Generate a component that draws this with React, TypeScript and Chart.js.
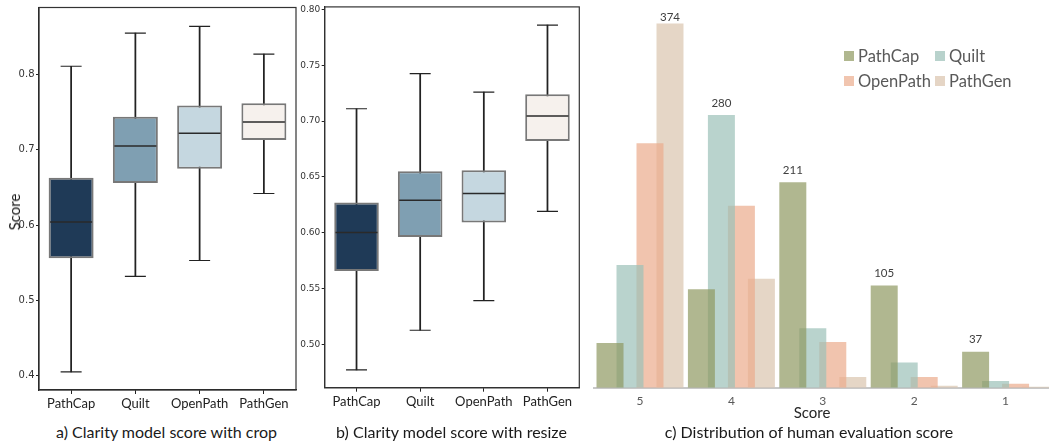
import React, { useEffect, useRef } from 'react';
import { Chart, registerables } from 'chart.js';

Chart.register(...registerables);

// ---------- Data ----------
const boxCategories = ['PathCap', 'Quilt', 'OpenPath', 'PathGen'];
const boxColors = ['#1f3a57', '#7f9fb2', '#c5d7e0', '#f6f1ed'];

// a) crop
const cropMin = [0.405, 0.532, 0.553, 0.642];
const cropQ1 = [0.556, 0.656, 0.675, 0.713];
const cropMedian = [0.604, 0.705, 0.722, 0.737];
const cropQ3 = [0.663, 0.744, 0.759, 0.762];
const cropMax = [0.811, 0.855, 0.864, 0.827];
const cropTicks = [0.4, 0.5, 0.6, 0.7, 0.8];

// b) resize
const resizeMin = [0.477, 0.5125, 0.539, 0.619];
const resizeQ1 = [0.5655, 0.596, 0.609, 0.682];
const resizeMedian = [0.6, 0.629, 0.635, 0.7045];
const resizeQ3 = [0.627, 0.655, 0.656, 0.724];
const resizeMax = [0.711, 0.7425, 0.726, 0.786];
const resizeTicks = [0.5, 0.55, 0.6, 0.65, 0.7, 0.75, 0.8];

// c) human evaluation
const scoreCategories = ['5', '4', '3', '2', '1'];
const seriesNames = ['PathCap', 'Quilt', 'OpenPath', 'PathGen'];
const pathCapCounts = [46, 101, 211, 105, 37];
const quiltCounts = [126, 280, 61, 26, 7];
const openPathCounts = [251, 187, 47, 11, 4];
const pathGenCounts = [374, 112, 11, 2, 1];
const barFill = ['rgba(142,152,97,0.7)', 'rgba(155,192,184,0.7)', 'rgba(235,171,139,0.7)', 'rgba(218,197,174,0.7)'];
const legendSwatch = ['#b0b78f', '#b8d2cc', '#f1c5af', '#e5d5c5'];

const LABEL_FONT = 'Lato, "Open Sans", sans-serif';

const framePlugin = {
  id: 'frame',
  afterDraw(chart: any) {
    const { ctx, chartArea: a } = chart;
    ctx.save();
    ctx.strokeStyle = '#333';
    ctx.lineWidth = 1.2;
    ctx.strokeRect(a.left, a.top, a.right - a.left, a.bottom - a.top);
    ctx.restore();
  },
};

function boxConfig(
  mins: number[], q1: number[], med: number[], q3: number[], maxs: number[],
  yMin: number, yMax: number, ticks: number[], decimals: number,
  yWidth: number, xHeight: number, padRight: number, padTop: number, tickFont: number
): any {
  return {
    type: 'bar',
    data: {
      labels: boxCategories,
      datasets: [
        {
          type: 'bar', label: 'whisker', data: mins.map((m, i) => [m, maxs[i]]),
          backgroundColor: '#222', barThickness: 1.1, grouped: false, order: 3,
        },
        {
          type: 'bar', label: 'box', data: q1.map((v, i) => [v, q3[i]]),
          backgroundColor: boxColors, borderColor: '#787878', borderWidth: 2,
          borderSkipped: false, grouped: false, categoryPercentage: 1, barPercentage: 0.7, order: 2,
        },
        {
          type: 'line', label: 'median', data: med, showLine: false, pointStyle: 'line',
          pointRadius: 21, pointBorderColor: '#2a2a2a', pointBorderWidth: 1.5, order: 1,
        },
        {
          type: 'line', label: 'max', data: maxs, showLine: false, pointStyle: 'line',
          pointRadius: 10.5, pointBorderColor: '#222', pointBorderWidth: 1.2, order: 1,
        },
        {
          type: 'line', label: 'min', data: mins, showLine: false, pointStyle: 'line',
          pointRadius: 10.5, pointBorderColor: '#222', pointBorderWidth: 1.2, order: 1,
        },
      ],
    },
    options: {
      responsive: false,
      animation: false,
      layout: { autoPadding: false, padding: { top: padTop, right: padRight, left: 0, bottom: 0 } },
      plugins: { legend: { display: false }, tooltip: { enabled: false } },
      scales: {
        x: {
          offset: true,
          grid: { display: true, offset: false, drawOnChartArea: false, drawTicks: true, tickLength: 4, color: '#222' },
          border: { color: '#222', width: 1.2 },
          ticks: { font: { family: LABEL_FONT, size: 13 }, color: '#222', padding: 2, maxRotation: 0, autoSkip: false },
          afterFit: (s: any) => { s.height = xHeight; },
        },
        y: {
          min: yMin, max: yMax,
          afterBuildTicks: (s: any) => { s.ticks = ticks.map((v) => ({ value: v })); },
          grid: { display: true, drawOnChartArea: false, drawTicks: true, tickLength: 3, color: '#222' },
          border: { color: '#222', width: 1.2 },
          ticks: {
            font: { family: '"DejaVu Sans", sans-serif', size: tickFont }, color: '#333', padding: 1.5,
            autoSkip: false,
            callback: (v: any) => Number(v).toFixed(decimals),
          },
          afterFit: (s: any) => { s.width = yWidth; },
        },
      },
    },
    plugins: [framePlugin],
  };
}

const valueLabelPlugin = {
  id: 'valueLabels',
  afterDatasetsDraw(chart: any) {
    const { ctx } = chart;
    const sets = chart.data.datasets;
    ctx.save();
    ctx.font = `11.5px ${LABEL_FONT}`;
    ctx.fillStyle = '#404040';
    ctx.textAlign = 'center';
    ctx.textBaseline = 'middle';
    for (let i = 0; i < chart.data.labels.length; i++) {
      let best = 0;
      for (let d = 1; d < sets.length; d++) if (sets[d].data[i] > sets[best].data[i]) best = d;
      const el = chart.getDatasetMeta(best).data[i];
      const y = Math.max(el.y - 12, chart.chartArea.top + 9);
      ctx.fillText(String(sets[best].data[i]), el.x, y);
    }
    ctx.restore();
  },
};

function barConfig(): any {
  const series = [pathCapCounts, quiltCounts, openPathCounts, pathGenCounts];
  return {
    type: 'bar',
    data: {
      labels: scoreCategories,
      datasets: series.map((d, i) => ({
        label: seriesNames[i], data: d, backgroundColor: barFill[i], borderWidth: 0,
        categoryPercentage: 0.875, barPercentage: 1.35,
      })),
    },
    options: {
      responsive: false,
      animation: false,
      layout: { autoPadding: false, padding: { top: 8, right: 8.7, left: 14.3, bottom: 0 } },
      plugins: { legend: { display: false }, tooltip: { enabled: false } },
      scales: {
        x: {
          grid: { display: false, drawTicks: false },
          border: { color: '#c8c8c8', width: 2 },
          ticks: { font: { family: LABEL_FONT, size: 12 }, color: '#595959', padding: 6, autoSkip: false },
          afterFit: (s: any) => { s.height = 32.3; },
        },
        y: { display: false, min: 0, max: 390 },
      },
    },
    plugins: [valueLabelPlugin],
  };
}

function ChartCanvas({ config, left, top, width, height }: any) {
  const ref = useRef<HTMLCanvasElement>(null);
  useEffect(() => {
    const chart = new Chart(ref.current as HTMLCanvasElement, config());
    return () => chart.destroy();
  }, []);
  return (
    <canvas
      ref={ref}
      width={width}
      height={height}
      style={{ position: 'absolute', left, top, width, height }}
    />
  );
}

const textBase: React.CSSProperties = {
  position: 'absolute', fontFamily: LABEL_FONT, color: '#1a1a1a', whiteSpace: 'nowrap',
};

export default function App() {
  return (
    <div style={{ position: 'fixed', left: 0, top: 0, width: 1049, height: 441, overflow: 'hidden', background: '#fff' }}>
      <ChartCanvas
        left={0} top={0} width={300} height={420}
        config={() => boxConfig(cropMin, cropQ1, cropMedian, cropQ3, cropMax, 0.381, 0.889, cropTicks, 1, 39, 30, 4, 7, 10)}
      />
      <ChartCanvas
        left={290} top={0} width={296} height={420}
        config={() => boxConfig(resizeMin, resizeQ1, resizeMedian, resizeQ3, resizeMax, 0.461, 0.8023, resizeTicks, 2, 34.7, 32.3, 6.7, 6.7, 9)}
      />
      <ChartCanvas left={580} top={0} width={480} height={420} config={barConfig} />

      {/* y title of panel a */}
      <div style={{ ...textBase, left: 14, top: 212, fontSize: 15, transform: 'translate(-50%,-50%) rotate(-90deg)' }}>Score</div>
      {/* x title of panel c */}
      <div style={{ ...textBase, left: 812, top: 412, fontSize: 15, color: '#262626', transform: 'translate(-50%,-50%)' }}>Score</div>

      {/* captions */}
      <div style={{ ...textBase, left: 166.5, top: 431, fontSize: 16, transform: 'translate(-50%,-50%)' }}>a) Clarity model score with crop</div>
      <div style={{ ...textBase, left: 451.5, top: 431, fontSize: 16, transform: 'translate(-50%,-50%)' }}>b) Clarity model score with resize</div>
      <div style={{ ...textBase, left: 809, top: 431, fontSize: 16, transform: 'translate(-50%,-50%)' }}>c) Distribution of human evaluation score</div>

      {/* legend of panel c */}
      {seriesNames.map((name, i) => (
        <div
          key={name}
          style={{
            ...textBase, left: i % 2 === 0 ? 844 : 935, top: i < 2 ? 56 : 81, fontSize: 16.5, color: '#595959',
            display: 'flex', alignItems: 'center', transform: 'translateY(-50%)',
          }}
        >
          <span style={{ display: 'inline-block', width: 10, height: 10, background: legendSwatch[i], marginRight: 4 }} />
          {name}
        </div>
      ))}
    </div>
  );
}
